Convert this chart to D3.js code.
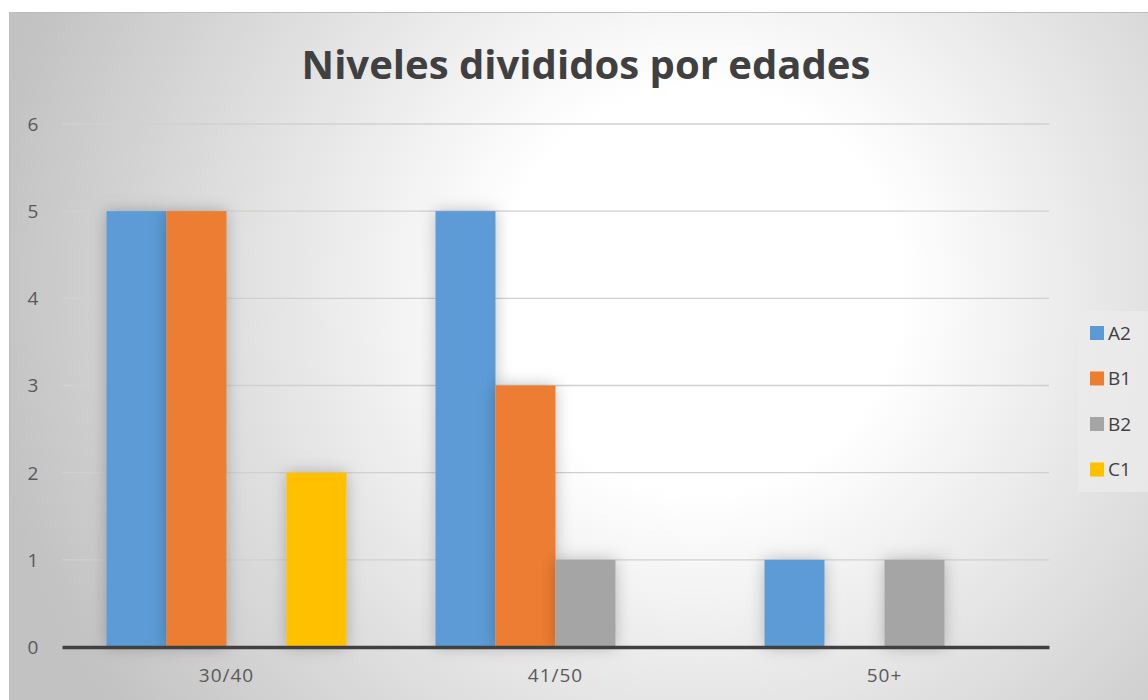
<!DOCTYPE html>
<html><head><meta charset="utf-8">
<script src="https://cdnjs.cloudflare.com/ajax/libs/d3/7.8.5/d3.min.js"></script>
<style>html,body{margin:0;padding:0;background:#fff;}svg{display:block;}</style>
</head><body>
<script>
const categories = ["30/40", "41/50", "50+"];
const seriesNames = ["A2", "B1", "B2", "C1"];
const seriesColors = ["#5B9BD5", "#ED7D31", "#A5A5A5", "#FFC000"];
const valuesA2 = [5, 5, 1];
const valuesB1 = [5, 3, 0];
const valuesB2 = [0, 1, 1];
const valuesC1 = [2, 0, 0];
const yTicks = [0, 1, 2, 3, 4, 5, 6];
const title = "Niveles divididos por edades";

(function () {
const seriesValues = [valuesA2, valuesB1, valuesB2, valuesC1];
const W = 1148, H = 700;
const svg = d3.select("body").append("svg").attr("width", W).attr("height", H);
const defs = svg.append("defs");
const grad = defs.append("radialGradient").attr("id", "bg")
  .attr("gradientUnits", "userSpaceOnUse")
  .attr("cx", 700).attr("cy", 290).attr("r", 720);
grad.append("stop").attr("offset", "0%").attr("stop-color", "#ffffff");
grad.append("stop").attr("offset", "28%").attr("stop-color", "#ffffff");
grad.append("stop").attr("offset", "100%").attr("stop-color", "#c2c2c2");
const f = defs.append("filter").attr("id", "sh").attr("x", "-50%").attr("y", "-20%").attr("width", "200%").attr("height", "140%");
f.append("feDropShadow").attr("dx", 0).attr("dy", 0).attr("stdDeviation", 8)
  .attr("flood-color", "#000").attr("flood-opacity", 0.25);

svg.append("rect").attr("x", 9.5).attr("y", 12.5).attr("width", W).attr("height", H)
  .attr("fill", "url(#bg)").attr("stroke", "#bdbdbd").attr("stroke-width", 1);

const pLeft = 62, pRight = 1049, pTop = 124, pBottom = 647;
const x = d3.scaleBand().domain(categories).range([pLeft, pRight]).paddingInner(0).paddingOuter(0);
const innerPad = 89 / 329;
const x1 = d3.scaleBand().domain(seriesNames).range([0, x.bandwidth() * (1 - innerPad)]);
const y = d3.scaleLinear().domain([0, 6]).range([pBottom, pTop]);

svg.append("g").selectAll("line").data(yTicks.filter(d => d > 0)).join("line")
  .attr("x1", pLeft).attr("x2", pRight).attr("y1", d => y(d)).attr("y2", d => y(d))
  .attr("stroke", "#d0d0d0").attr("stroke-width", 1.3);

svg.append("g").selectAll("text").data(yTicks).join("text")
  .attr("x", 33).attr("y", d => y(d)).attr("dy", "0.36em").attr("text-anchor", "middle")
  .attr("font-family", "'Open Sans', sans-serif").attr("font-size", 19).attr("fill", "#595959")
  .text(d => d);

const groups = svg.append("g").selectAll("g").data(categories).join("g")
  .attr("transform", d => `translate(${x(d) + x.bandwidth() * innerPad / 2},0)`);
groups.selectAll("rect").data((c, i) => seriesNames.map((s, j) => ({s, v: seriesValues[j][i], j})).filter(d => d.v > 0))
  .join("rect")
  .attr("x", d => x1(d.s)).attr("width", x1.bandwidth())
  .attr("y", d => y(d.v)).attr("height", d => y(0) - y(d.v))
  .attr("fill", d => seriesColors[d.j]).attr("filter", "url(#sh)");

const xAxis = d3.axisBottom(x).tickSize(0).tickPadding(22);
const ax = svg.append("g").attr("transform", `translate(0,${pBottom})`).call(xAxis);
ax.select(".domain").attr("stroke", "#404040").attr("stroke-width", 3.5);
ax.selectAll("text").attr("font-family", "'Open Sans', sans-serif").attr("font-size", 19)
  .attr("letter-spacing", 1).attr("fill", "#595959");

const t = svg.append("text").attr("x", 586).attr("y", 79).attr("text-anchor", "middle")
  .attr("font-family", "'Open Sans', sans-serif").attr("font-weight", "bold")
  .attr("font-size", 40).attr("fill", "#404040").text(title);
const tw = t.node().getComputedTextLength();
t.attr("font-size", 40 * 569 / tw);

svg.append("rect").attr("x", 1078).attr("y", 311).attr("width", 70).attr("height", 181)
  .attr("fill", "#ebebeb").attr("fill-opacity", 0.8);
const lg = svg.append("g").selectAll("g").data(seriesNames).join("g")
  .attr("transform", (d, i) => `translate(1090,${333 + i * 45.5})`);
lg.append("rect").attr("x", 0).attr("y", -7).attr("width", 14).attr("height", 14)
  .attr("fill", (d, i) => seriesColors[i]);
lg.append("text").attr("x", 18).attr("y", 0).attr("dy", "0.36em")
  .attr("font-family", "'Open Sans', sans-serif").attr("font-size", 19).attr("fill", "#404040")
  .text(d => d);
})();
</script>
</body></html>
